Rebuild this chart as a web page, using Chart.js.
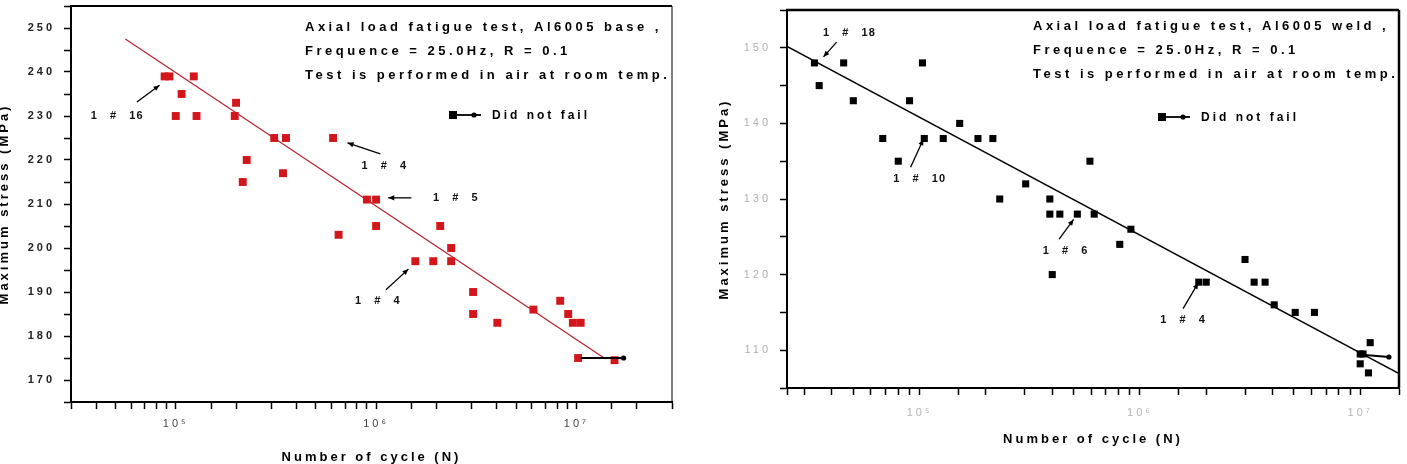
<!DOCTYPE html>
<html><head><meta charset="utf-8">
<script src="https://cdn.jsdelivr.net/npm/chart.js@4.4.1/dist/chart.umd.min.js"></script>
<style>
html,body{margin:0;padding:0;background:#fff;}
#wrap{position:relative;width:1407px;height:464px;overflow:hidden;background:#fff;}
#c1{position:absolute;left:0;top:0;}
#c2{position:absolute;left:700px;top:0;}
</style></head><body>
<div id="wrap"><canvas id="c1" width="700" height="464"></canvas><canvas id="c2" width="707" height="464"></canvas></div>
<script>
// ---------- DATA ----------
// Al6005 base metal
const baseCycles = [8.8e4, 9.3e4, 1.23e5, 1.07e5, 1.0e5, 1.27e5, 2.0e5, 1.97e5, 2.26e5, 2.16e5, 3.1e5, 3.55e5, 3.43e5, 6.1e5, 6.5e5, 9.0e5, 1.0e6, 1.0e6, 2.09e6, 2.37e6, 1.57e6, 1.93e6, 2.37e6, 3.05e6, 3.05e6, 4.03e6, 6.1e6, 8.3e6, 9.1e6, 9.6e6, 1.05e7, 1.02e7, 1.55e7];
const baseStress = [239, 239, 239, 235, 230, 230, 233, 230, 220, 215, 225, 225, 217, 225, 203, 211, 211, 205, 205, 200, 197, 197, 197, 190, 185, 183, 186, 188, 185, 183, 183, 175, 174.5];
const baseFitCycles = [5.6e4, 1.4e7];
const baseFitStress = [247.5, 174.8];
const baseRunoutCycles = [1.05e7, 1.72e7];
const baseRunoutStress = [175, 175];
// Al6005 weld
const weldCycles = [3.33e4, 3.5e4, 4.52e4, 5.0e4, 6.8e4, 8.0e4, 9.0e4, 1.03e5, 1.05e5, 1.28e5, 1.52e5, 1.84e5, 2.15e5, 2.31e5, 3.03e5, 3.9e5, 3.9e5, 4.33e5, 5.2e5, 6.2e5, 5.93e5, 9.1e5, 8.1e5, 4.0e5, 1.85e6, 2.0e6, 3.0e6, 3.3e6, 3.7e6, 4.07e6, 5.07e6, 6.2e6, 1.0e7, 1.03e7, 1.0e7, 1.11e7, 1.09e7];
const weldStress = [148, 145, 148, 143, 138, 135, 143, 148, 138, 138, 140, 138, 138, 130, 132, 130, 128, 128, 128, 128, 135, 126, 124, 120, 119, 119, 122, 119, 119, 116, 115, 115, 109.5, 109.5, 108.2, 111, 107];
const weldFitCycles = [2.5e4, 1.5e7];
const weldFitStress = [150.2, 106.9];
const weldRunoutCycles = [1.02e7, 1.35e7];
const weldRunoutStress = [109.4, 109.1];

// axis ranges / tick labels
const baseXRange = [3e4, 3e7], baseYRange = [165, 255];
const weldXRange = [2.5e4, 1.5e7], weldYRange = [105, 155];
const yTickStep = 5, yLabelStep = 10;
const sup = ['\u2070','\u00B9','\u00B2','\u00B3','\u2074','\u2075','\u2076','\u2077','\u2078','\u2079'];

// texts
const baseInfo = ['Axial load fatigue test, Al6005 base ,', 'Frequence = 25.0Hz, R = 0.1', 'Test is performed in air at room temp.'];
const weldInfo = ['Axial load fatigue test, Al6005 weld ,', 'Frequence = 25.0Hz, R = 0.1', 'Test is performed in air at room temp.'];
const legendText = 'Did not fail';
const xTitle = 'Number of cycle (N)';
const yTitle = 'Maximum stress (MPa)';

// specimen callouts (label, text anchor, arrow tail, arrow head) in data units
const baseNotes = [
  {t:'1   #   16', at:[5.1e4, 230],   from:[6.4e4, 233.2],  to:[8.3e4, 237]},
  {t:'1   #   4',  at:[1.1e6, 218.6], from:[1.05e6, 221.4], to:[7.2e5, 223.9]},
  {t:'1   #   5',  at:[2.5e6, 211.4], from:[1.5e6, 211.4],  to:[1.15e6, 211.4]},
  {t:'1   #   4',  at:[1.02e6, 188],  from:[1.12e6, 190.5], to:[1.45e6, 195.2]}
];
const weldNotes = [
  {t:'1   #   18', at:[4.8e4, 151.9], from:[4.2e4, 150.75], to:[3.66e4, 148.8]},
  {t:'1   #   10', at:[1.0e5, 132.7], from:[9.1e4, 134.2],  to:[1.04e5, 137.9]},
  {t:'1   #   6',  at:[4.6e5, 123.1], from:[4.3e5, 124.7],  to:[5.0e5, 127.3]},
  {t:'1   #   4',  at:[1.57e6, 114.0], from:[1.57e6, 115.5], to:[1.84e6, 118.9]}
];

const zip = (xs, ys) => xs.map((x, i) => ({x, y: ys[i]}));

Chart.defaults.font.family = '"Liberation Sans", Arial, sans-serif';

const deco = {
  id: 'deco',
  beforeDraw(chart) { chart.ctx.letterSpacing = '3px'; },
  afterDraw(chart, args, o) {
    const {ctx, chartArea: a, scales: {x, y}} = chart;
    const px = v => x.getPixelForValue(v), py = v => y.getPixelForValue(v);
    ctx.save();
    // frame top/right
    ctx.strokeStyle = '#000';
    ctx.lineWidth = o.frameTop;
    ctx.beginPath(); ctx.moveTo(a.left - 1, a.top); ctx.lineTo(a.right, a.top); ctx.stroke();
    ctx.lineWidth = o.frameRight;
    ctx.beginPath(); ctx.moveTo(a.right, a.top); ctx.lineTo(a.right, a.bottom); ctx.stroke();
    // info text
    ctx.fillStyle = '#000';
    ctx.font = 'bold 13px "Liberation Sans", Arial, sans-serif';
    ctx.letterSpacing = '3.5px';
    ctx.textAlign = 'left'; ctx.textBaseline = 'middle';
    o.info.forEach((t, i) => ctx.fillText(t, o.infoX, o.infoY + i * o.infoDy));
    // legend
    ctx.font = 'bold 12px "Liberation Sans", Arial, sans-serif';
    ctx.letterSpacing = '3px';
    const lx = o.legX, ly = o.legY;
    ctx.fillRect(lx, ly - 4, 8, 8);
    ctx.lineWidth = 1.8;
    ctx.beginPath(); ctx.moveTo(lx + 8, ly); ctx.lineTo(lx + 32, ly); ctx.stroke();
    ctx.beginPath(); ctx.arc(lx + 25, ly, 2.6, 0, Math.PI * 2); ctx.fill();
    ctx.fillText(legendText, lx + 43, ly + 1);
    // callouts
    ctx.font = 'bold 11px "Liberation Sans", Arial, sans-serif';
    ctx.letterSpacing = '1px';
    ctx.textAlign = 'center';
    o.notes.forEach(n => {
      ctx.fillStyle = '#111';
      ctx.fillText(n.t, px(n.at[0]), py(n.at[1]));
      const x0 = px(n.from[0]), y0 = py(n.from[1]), x1 = px(n.to[0]), y1 = py(n.to[1]);
      ctx.strokeStyle = '#000'; ctx.lineWidth = 1.3;
      ctx.beginPath(); ctx.moveTo(x0, y0); ctx.lineTo(x1, y1); ctx.stroke();
      const ang = Math.atan2(y1 - y0, x1 - x0), L = 6, W = 2.6;
      ctx.beginPath();
      ctx.moveTo(x1, y1);
      ctx.lineTo(x1 - L * Math.cos(ang) + W * Math.sin(ang), y1 - L * Math.sin(ang) - W * Math.cos(ang));
      ctx.lineTo(x1 - L * Math.cos(ang) - W * Math.sin(ang), y1 - L * Math.sin(ang) + W * Math.cos(ang));
      ctx.closePath(); ctx.fillStyle = '#000'; ctx.fill();
    });
    ctx.restore();
  }
};

function fixBox(h, w) {
  return function (s) {
    if (h !== null) s.height = h;
    if (w !== null) s.width = w;
    s.paddingLeft = s.paddingRight = s.paddingTop = s.paddingBottom = 0;
  };
}

function makeChart(id, c) {
  return new Chart(document.getElementById(id), {
    type: 'scatter',
    data: {
      datasets: [
        {label: 'runout', type: 'line', data: zip(c.runX, c.runY), borderColor: '#000', borderWidth: 1.8,
         pointRadius: [0, 2.6], pointBackgroundColor: '#000', pointBorderWidth: 0, order: 0},
        {label: 'data', data: zip(c.xs, c.ys), pointStyle: 'rect', pointRadius: c.r,
         backgroundColor: c.color, borderColor: c.color, borderWidth: 0, order: 1},
        {label: 'fit', type: 'line', data: zip(c.fitX, c.fitY), borderColor: c.lineColor, borderWidth: c.lineW,
         pointRadius: 0, order: 2}
      ]
    },
    options: {
      responsive: false, animation: false, events: [],
      layout: {padding: {left: 0, top: c.padTop, right: c.padRight, bottom: 0}},
      plugins: {legend: {display: false}, tooltip: {enabled: false},
        deco: {info: c.info, infoX: c.infoX, infoY: c.infoY, infoDy: c.infoDy, legX: c.legX, legY: c.legY,
               notes: c.notes, frameTop: c.frameTop, frameRight: c.frameRight}},
      scales: {
        x: {
          type: 'logarithmic', min: c.xRange[0], max: c.xRange[1],
          afterFit: fixBox(c.xAxisH, null),
          ticks: {autoSkip: false, maxRotation: 0, minRotation: 0, padding: c.xTickPad, color: c.xTickColor,
            font: {size: 11},
            callback: v => { const e = Math.log10(v); const r = Math.round(e);
              return Math.abs(e - r) < 1e-9 ? '10' + sup[r] : ''; }},
          grid: {drawOnChartArea: false, drawTicks: true, tickLength: 7, color: '#000', tickWidth: 1.5},
          border: {display: true, color: '#000', width: 2},
          title: {display: true, text: xTitle, color: '#000', font: {size: 13, weight: 'bold'},
            padding: {top: 0, bottom: c.xTitlePad}}
        },
        y: {
          type: 'linear', min: c.yRange[0], max: c.yRange[1],
          afterFit: fixBox(null, c.yAxisW),
          ticks: {stepSize: yTickStep, autoSkip: false, padding: 9, color: c.yTickColor,
            font: {size: 11, weight: c.yTickWeight},
            callback: v => (v % yLabelStep === 0 ? String(v) : '')},
          grid: {drawOnChartArea: false, drawTicks: true, tickLength: 7, color: '#000', tickWidth: 1.5},
          border: {display: true, color: '#000', width: 2},
          title: {display: true, text: yTitle, color: '#000', font: {size: 13, weight: 'bold'},
            padding: {top: c.yTitlePad, bottom: 0}}
        }
      }
    },
    plugins: [deco]
  });
}

makeChart('c1', {
  xs: baseCycles, ys: baseStress, fitX: baseFitCycles, fitY: baseFitStress, runX: baseRunoutCycles, runY: baseRunoutStress,
  xRange: baseXRange, yRange: baseYRange, r: 5.6, color: '#d3161c', lineColor: '#b4202c', lineW: 1.2,
  padTop: 6, padRight: 28, xAxisH: 62, yAxisW: 71, xTickPad: 8, xTickColor: '#444', yTickColor: '#222', yTickWeight: 'bold',
  xTitlePad: -1, yTitlePad: -3,
  info: baseInfo, infoX: 305, infoY: 27, infoDy: 24, legX: 449, legY: 115, notes: baseNotes, frameTop: 2, frameRight: 1
});

makeChart('c2', {
  xs: weldCycles, ys: weldStress, fitX: weldFitCycles, fitY: weldFitStress, runX: weldRunoutCycles, runY: weldRunoutStress,
  xRange: weldXRange, yRange: weldYRange, r: 5, color: '#000', lineColor: '#000', lineW: 1.5,
  padTop: 10, padRight: 8, xAxisH: 76, yAxisW: 87, xTickPad: 11, xTickColor: '#b3b3b3', yTickColor: '#b0b0b0', yTickWeight: 'normal',
  xTitlePad: 17, yTitlePad: 17,
  info: weldInfo, infoX: 333, infoY: 26, infoDy: 24, legX: 458, legY: 117, notes: weldNotes, frameTop: 2.5, frameRight: 2.5
});
</script>
</body></html>
